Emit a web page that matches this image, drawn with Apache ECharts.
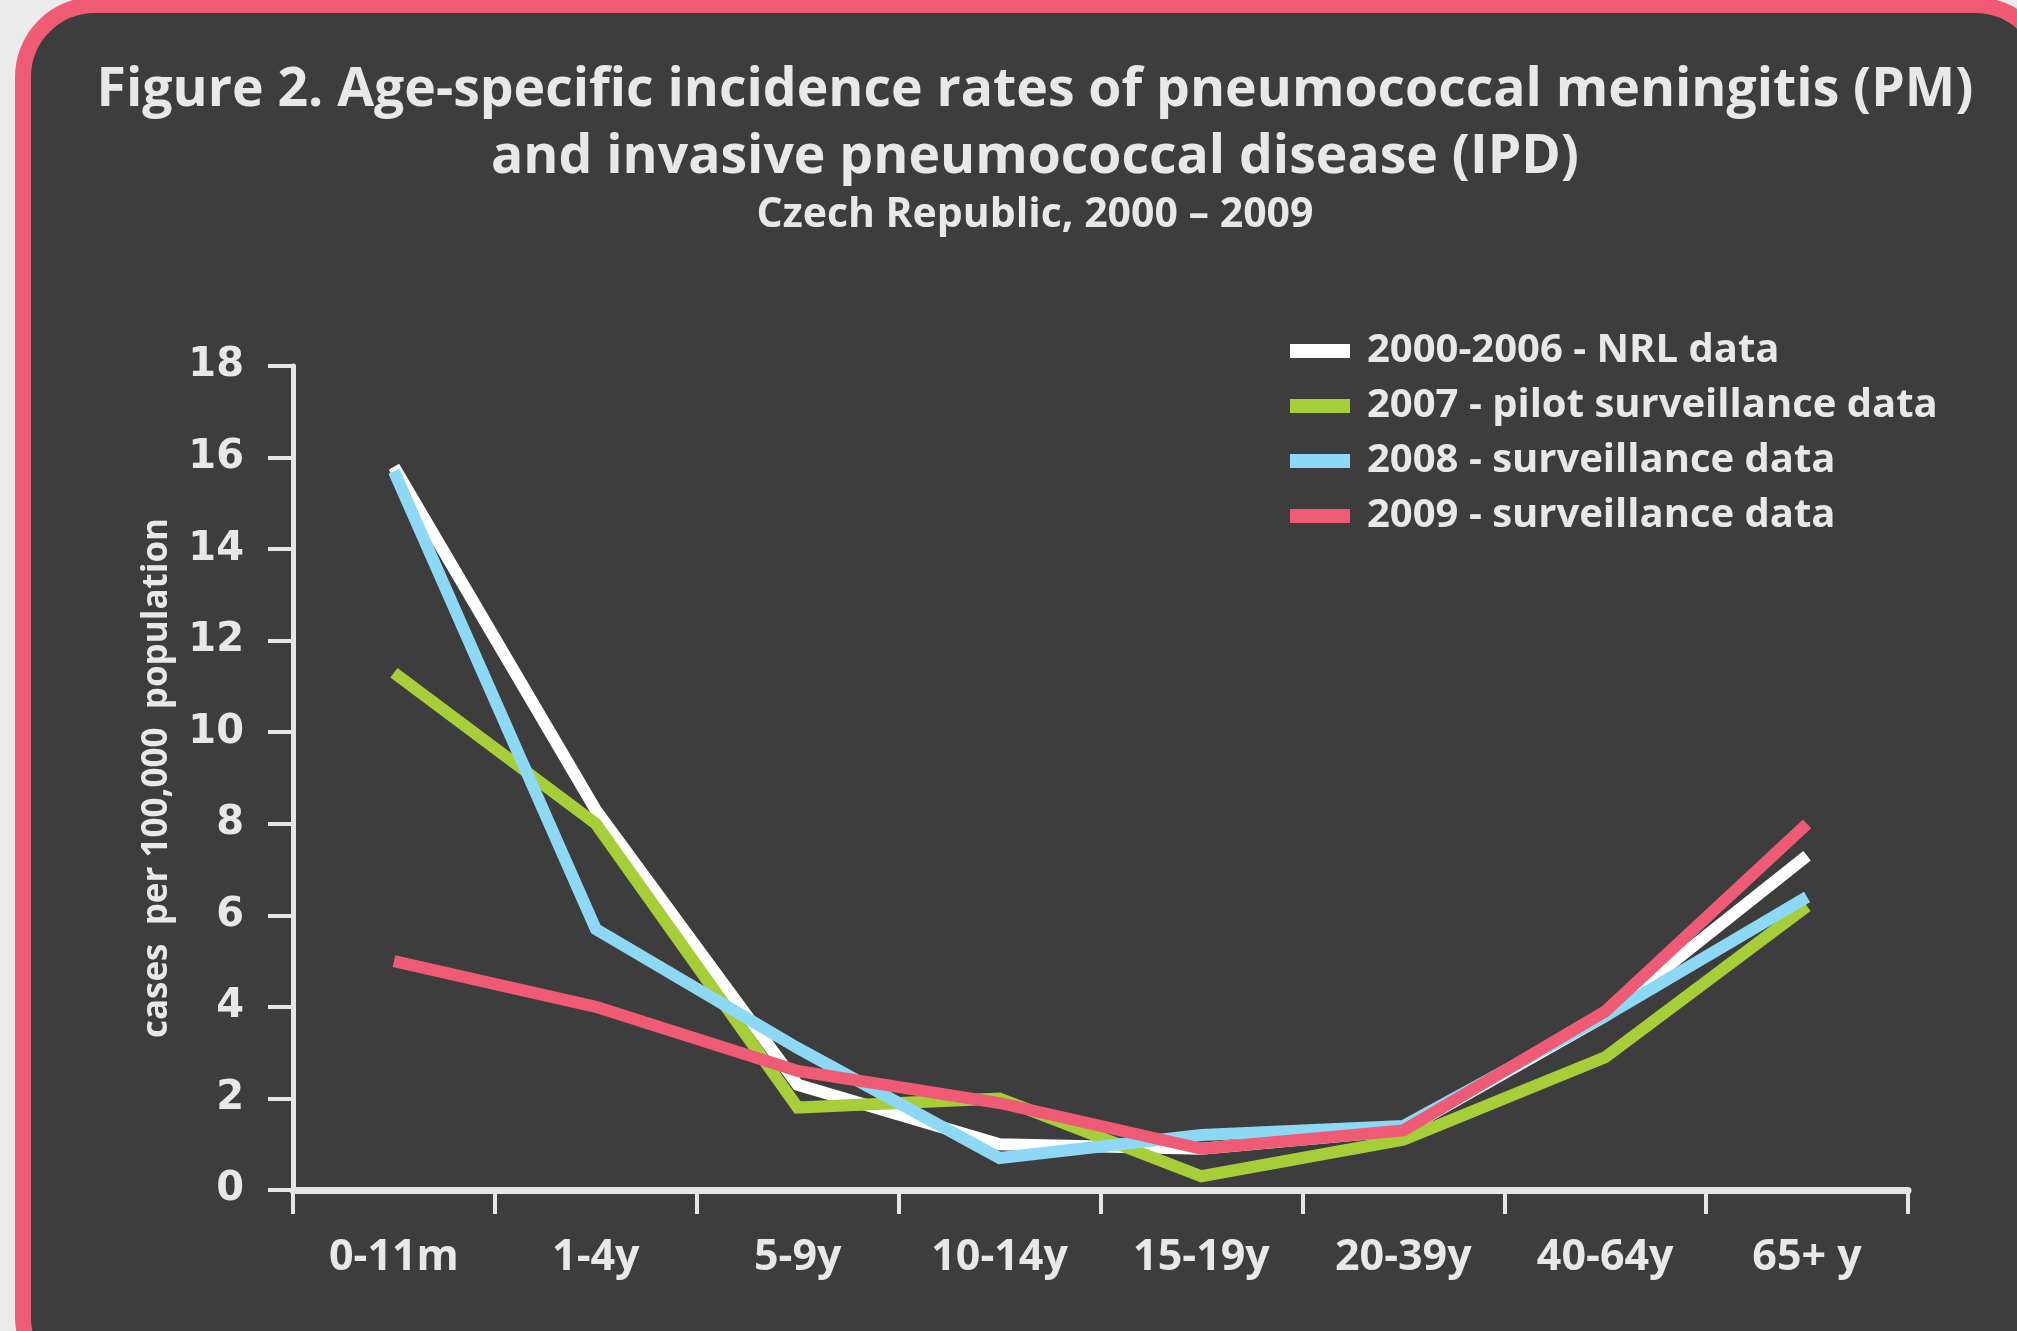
<!DOCTYPE html>
<html>
<head>
<meta charset="utf-8">
<script src="https://cdn.jsdelivr.net/npm/echarts@6/dist/echarts.min.js"></script>
<style>
  html, body { margin: 0; padding: 0; width: 2017px; height: 1331px; overflow: hidden; background: #ebebeb; }
  #card { position: absolute; left: 15px; top: -3px; width: 2040px; height: 1400px; box-sizing: border-box;
          border: 16px solid #ef5b74; border-radius: 80px; background: #3d3d3d; }
  #chart { position: absolute; left: 0; top: 0; width: 2017px; height: 1331px; }
</style>
</head>
<body>
<div id="card"></div>
<div id="chart"></div>
<script>
const categories = ['0-11m', '1-4y', '5-9y', '10-14y', '15-19y', '20-39y', '40-64y', '65+ y'];
const seriesNames = ['2000-2006 - NRL data', '2007 - pilot surveillance data', '2008 - surveillance data', '2009 - surveillance data'];
const nrl2000_2006 = [15.8, 8.3, 2.3, 1.0, 0.9, 1.3, 3.8, 7.3];
const pilot2007 = [11.3, 8.0, 1.8, 2.0, 0.3, 1.1, 2.9, 6.2];
const surv2008 = [15.7, 5.7, 3.1, 0.7, 1.2, 1.4, 3.8, 6.4];
const surv2009 = [5.0, 4.0, 2.6, 1.9, 0.9, 1.3, 3.9, 8.0];
const colors = ['#ffffff', '#a6ce39', '#8dd8f5', '#ef5b74'];

const txt = '#e8e8ea';
const font = 'Open Sans';
const chart = echarts.init(document.getElementById('chart'), null, { renderer: 'canvas' });
const dataSets = [nrl2000_2006, pilot2007, surv2008, surv2009];

chart.setOption({
  backgroundColor: 'transparent',
  animation: false,
  title: [
    {
      text: 'Figure 2. Age-specific incidence rates of pneumococcal meningitis (PM)\nand invasive pneumococcal disease (IPD)',
      left: 1030, textAlign: 'center', top: 52,
      textStyle: { color: txt, fontFamily: font, fontWeight: 'bold', fontSize: 53.5, lineHeight: 67 }
    },
    {
      text: 'Czech Republic, 2000 – 2009',
      left: 1030, textAlign: 'center', top: 187,
      textStyle: { color: txt, fontFamily: font, fontWeight: 'bold', fontSize: 41, lineHeight: 46 }
    }
  ],
  legend: {
    orient: 'vertical', left: 1285, top: 324,
    itemWidth: 60, itemHeight: 14, itemGap: 11,
    icon: 'rect',
    data: seriesNames,
    textStyle: { color: txt, fontFamily: font, fontWeight: 'bold', fontSize: 40, lineHeight: 44, padding: [0, 0, 0, 12] }
  },
  grid: { left: 293, right: 109, top: 366, bottom: 141, containLabel: false },
  xAxis: {
    type: 'category', data: categories, boundaryGap: true,
    axisLine: { show: true, lineStyle: { color: '#e6e6e8', width: 7, cap: 'round' } },
    axisTick: { show: true, length: 24, interval: 0, lineStyle: { color: '#e6e6e8', width: 4 } },
    axisLabel: { color: txt, fontFamily: font, fontWeight: 'bold', fontSize: 43, margin: 46, interval: 0 }
  },
  yAxis: {
    type: 'value', min: 0, max: 18, interval: 2,
    name: 'cases  per 100,000  population', nameLocation: 'middle', nameGap: 118, nameRotate: 90,
    nameTextStyle: { color: txt, fontFamily: font, fontWeight: 'bold', fontSize: 35 },
    axisLine: { show: true, lineStyle: { color: '#e6e6e8', width: 5 } },
    axisTick: { show: true, length: 25, lineStyle: { color: '#e6e6e8', width: 4 } },
    splitLine: { show: false },
    axisLabel: { color: txt, fontFamily: 'DejaVu Sans', fontWeight: 'bold', fontSize: 40, margin: 49 }
  },
  series: seriesNames.map((n, i) => ({
    name: n, type: 'line', data: dataSets[i],
    showSymbol: false, symbol: 'none',
    color: colors[i],
    lineStyle: { color: colors[i], width: 12, join: 'miter', cap: 'butt' },
    z: 2 + i
  }))
});
</script>
</body>
</html>
